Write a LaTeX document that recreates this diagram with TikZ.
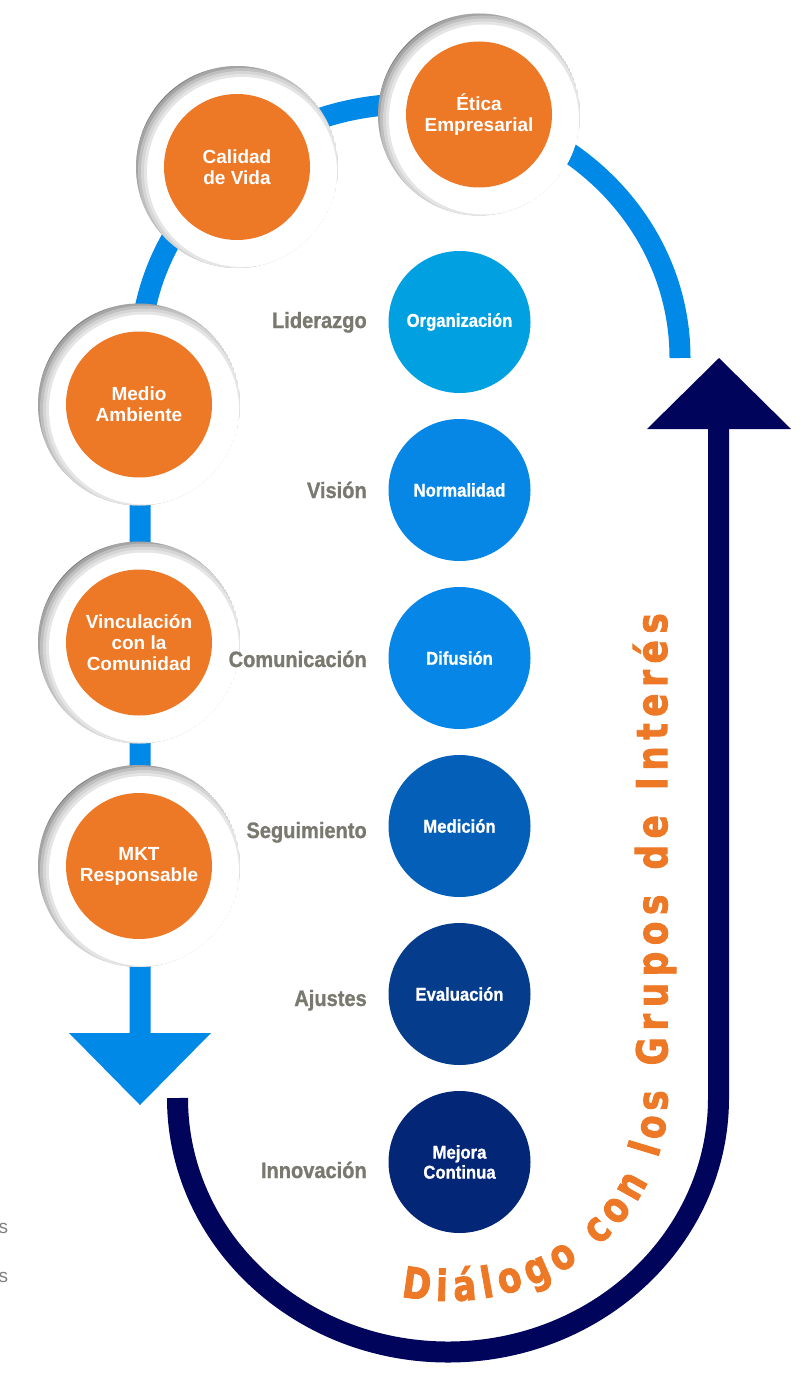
\documentclass[tikz,border=0pt]{standalone}
\usepackage{fontspec}
\setmainfont{Liberation Sans}
\newfontfamily\condfont{Liberation Sans Bold}[FakeStretch=0.9, FakeBold=1]
\newfontfamily\dialfont{DejaVu Sans Bold}[FakeStretch=0.8, FakeBold=2]
\usetikzlibrary{decorations.markings}
\definecolor{orng}{HTML}{ED7826}
\definecolor{arcblue}{HTML}{0089E7}
\definecolor{navyc}{HTML}{00045A}
\definecolor{labgray}{RGB}{121,121,111}
\definecolor{ringgray}{RGB}{125,125,125}
\definecolor{cOrg}{HTML}{00A0E1}
\definecolor{cNor}{HTML}{0687E6}
\definecolor{cDif}{HTML}{0687E7}
\definecolor{cMed}{HTML}{045FB9}
\definecolor{cEva}{HTML}{053C8C}
\definecolor{cMej}{HTML}{032676}
\newcommand{\ringat}[2]{%
  \begin{scope}
    \clip (#1,#2) circle[radius=101];
    \fill[ringgray] (#1,#2) circle[radius=101];
    \fill[white, opacity=0.3] (#1+5,#2-5) circle[radius=107];
    \fill[white, opacity=0.3] (#1+5,#2-5) circle[radius=104];
    \fill[white, opacity=0.35] (#1+5,#2-5) circle[radius=101];
    \fill[white, opacity=0.4] (#1+5,#2-5) circle[radius=98];
    \fill[white] (#1+5,#2-5) circle[radius=95];
  \end{scope}}
\begin{document}
\begin{tikzpicture}[x=0.75pt,y=0.75pt,
  orangedisc/.style={circle, fill=orng, minimum size=109.5pt, inner sep=0pt, text=white, align=center,
    font=\bfseries\fontsize{14.25pt}{15.75pt}\selectfont},
  bluedisc/.style={circle, minimum size=106.5pt, inner sep=0pt, text=white, align=center,
    font=\condfont\fontsize{13.9pt}{15pt}\selectfont},
  lab/.style={anchor=base east, inner sep=0pt, text=labgray,
    font=\condfont\fontsize{16.7pt}{20pt}\selectfont},
  cutlab/.style={anchor=base east, inner sep=0pt, text=gray, font=\fontsize{14.25pt}{16pt}\selectfont},
  dchar/.style={anchor=base, inner sep=0pt, outer sep=0pt, transform shape, text=orng,
    font=\dialfont\fontsize{32pt}{32pt}\selectfont},
  bluestroke/.style={draw=arcblue, line width=15.75pt},
  navystroke/.style={draw=navyc, line width=15.75pt}]
\useasboundingbox (0,0) rectangle (808,-1373);

% coordinates for the connector ends
\coordinate (blueArrowBase) at (140,-1033);
\coordinate (blueArrowTip) at (140,-1105);
\coordinate (arcLeft) at (140,-358);
\coordinate (navyStart) at (177.5,-1098);
\coordinate (navyTop) at (718.5,-429);
\coordinate (navyTip) at (719,-358);
\coordinate (titleStart) at (401,-1296.3);
\coordinate (titleEnd) at (667,-612);

% blue arc and left line with arrow
\draw[bluestroke] (blueArrowBase) -- (arcLeft)
  arc[start angle=180, end angle=0, x radius=270, y radius=254];
\fill[arcblue] (69,-1033) -- (211,-1033) -- (blueArrowTip) -- cycle;

% navy U with arrow
\draw[navystroke] (navyStart)
  arc[start angle=180, end angle=360, x radius=270.5, y radius=254] -- (navyTop);
\fill[navyc] (647,-429) -- (791,-429) -- (navyTip) -- cycle;

% rings
\ringat{237}{-167}
\ringat{479}{-114.5}
\ringat{139}{-404.5}
\ringat{139}{-642.5}
\ringat{139}{-866}

% orange discs
\node[orangedisc] (calidad) at (237,-167) {Calidad\\de Vida};
\node[orangedisc] (etica) at (479,-114.5) {Ética\\Empresarial};
\node[orangedisc] (medio) at (139,-404.5) {Medio\\Ambiente};
\node[orangedisc] (vinc) at (139,-642.5) {Vinculación\\con la\\Comunidad};
\node[orangedisc] (mkt) at (139,-866) {MKT\\Responsable};

% blue discs
\node[bluedisc, fill=cOrg] (org) at (459.5,-322) {Organización};
\node[bluedisc, fill=cNor] (nor) at (459.5,-490) {Normalidad};
\node[bluedisc, fill=cDif] (dif) at (459.5,-658) {Difusión};
\node[bluedisc, fill=cMed] (med) at (459.5,-826) {Medición};
\node[bluedisc, fill=cEva] (eva) at (459.5,-994) {Evaluación};
\node[bluedisc, fill=cMej] (mej) at (459.5,-1162) {Mejora\\Continua};

% gray labels
\node[lab] (lid) at (367,-328) {Liderazgo};
\node[lab] (vis) at (367,-498) {Visión};
\node[lab] (com) at (367,-667) {Comunicación};
\node[lab] (seg) at (367,-838) {Seguimiento};
\node[lab] (aju) at (367,-1006) {Ajustes};
\node[lab] (inn) at (367,-1178) {Innovación};

% cut-off letters at the left edge
\node[cutlab] (cut1) at (8.5,-1233) {s};
\node[cutlab] (cut2) at (8.5,-1282) {s};

% curved title, letter by letter along the path
\path[postaction={decorate}, decoration={markings,
    mark=at position 10.63pt with {\node[dchar] {D};},
    mark=at position 30.64pt with {\node[dchar] {i};},
    mark=at position 48.67pt with {\node[dchar] {á};},
    mark=at position 66.70pt with {\node[dchar] {l};},
    mark=at position 84.89pt with {\node[dchar] {o};},
    mark=at position 107.85pt with {\node[dchar] {g};},
    mark=at position 130.81pt with {\node[dchar] {o};},
    mark=at position 166.10pt with {\node[dchar] {c};},
    mark=at position 187.49pt with {\node[dchar] {o};},
    mark=at position 210.40pt with {\node[dchar] {n};},
    mark=at position 242.81pt with {\node[dchar] {l};},
    mark=at position 260.99pt with {\node[dchar] {o};},
    mark=at position 282.41pt with {\node[dchar] {s};},
    mark=at position 319.44pt with {\node[dchar] {G};},
    mark=at position 341.26pt with {\node[dchar] {r};},
    mark=at position 361.69pt with {\node[dchar] {u};},
    mark=at position 384.97pt with {\node[dchar] {p};},
    mark=at position 407.93pt with {\node[dchar] {o};},
    mark=at position 429.34pt with {\node[dchar] {s};},
    mark=at position 465.03pt with {\node[dchar] {d};},
    mark=at position 487.87pt with {\node[dchar] {e};},
    mark=at position 520.22pt with {\node[dchar] {I};},
    mark=at position 539.10pt with {\node[dchar] {n};},
    mark=at position 559.33pt with {\node[dchar] {t};},
    mark=at position 579.13pt with {\node[dchar] {e};},
    mark=at position 599.12pt with {\node[dchar] {r};},
    mark=at position 619.11pt with {\node[dchar] {é};},
    mark=at position 640.41pt with {\node[dchar] {s};}}]
  (titleStart) arc[start angle=257.64, end angle=360, x radius=219.5, y radius=203] -- (titleEnd);
\end{tikzpicture}
\end{document}
